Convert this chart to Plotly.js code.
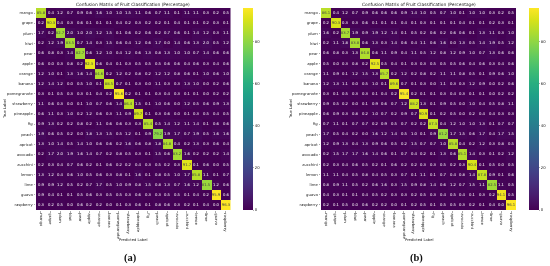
<!DOCTYPE html>
<html><head><meta charset="utf-8">
<script src="https://cdn.plot.ly/plotly-3.0.1.min.js"></script>
<style>html,body{margin:0;padding:0;background:#fff}#c{width:550px;height:266px;filter:blur(.35px)}</style></head>
<body><div id="c"></div>
<script>
const categories=["mango","grape","plum","kiwi","pear","apple","orange","banana","pomegranate","strawberry","pineapple","fig","peach","apricot","avocado","zucchini","lemon","lime","guava","raspberry"];
const matrixA=[
[85.8,.4,1.2,.7,.9,.6,1.6,1,1,1.5,1.1,.6,.7,1.1,.1,1.1,1.1,.3,.2,.5],
[.2,90.3,.4,.3,.6,.1,.1,.1,.4,.2,.3,.2,.2,.1,.4,.1,.1,.2,.3,.1],
[1.7,.2,82.7,2,1,2,1.2,1.5,.1,.6,.2,.6,.2,.7,.6,.1,1.4,1.2,.3,1.1],
[.2,1.2,1.9,83.5,.7,1.4,.3,1.5,.6,.4,1.2,.6,1.7,0,1.4,.6,1.3,2,.5,1.2],
[.6,.8,.3,1.4,82.7,.6,1.2,1,.4,1.2,.6,1.3,.8,1.3,1,1,.7,1.4,.6,.6],
[.6,0,.3,.8,.2,92.3,.6,.4,.1,.3,.5,.5,.5,.6,.6,.4,.6,.3,.4,.6],
[1.2,1,.1,1.3,1.6,1.4,84.6,.2,1.2,.2,.8,.2,1.2,1.2,.8,.6,.1,1,.6,1],
[1.2,1.4,1.2,0,.5,1,.1,88.5,.7,.1,.3,0,1.1,.3,.3,1.3,1,0,.2,.6],
[.3,.1,.5,.3,.3,.1,.4,.2,95.6,.2,.1,.1,.3,.4,.3,.1,.1,0,.2,.2],
[1.1,.6,.3,0,.1,1,.7,.6,1.4,86.4,1.5,.1,1,.6,0,1.2,.5,.6,.9,1.3],
[.6,1.1,.3,1,.2,1.2,.6,.3,1.1,.9,89.7,.1,.3,.6,0,.1,.3,.5,.4,.5],
[.9,1.3,.2,.2,.8,.2,1.1,.6,.6,.3,.3,85.4,.5,1.4,1.2,1.1,1.4,.1,.6,.6],
[1.9,.6,.5,.2,0,1.8,1.3,1.5,.5,1.2,.1,.9,79.2,1.9,1.7,.7,1.9,.5,1.6,1.6],
[1.3,1,1.4,.5,1.4,1,.6,.6,.2,1.6,.6,.8,1.8,84.8,.4,.2,1.3,.3,.6,.4],
[.2,1.7,2,1.9,1.6,1.4,.7,.2,.8,.5,.3,.1,1.5,.6,83.2,1.6,.2,.2,.2,1.4],
[.2,.3,.4,.7,.6,.2,.1,.6,.2,.2,.4,.3,.5,.2,.3,91.7,.1,.6,0,.5],
[1.3,1.2,.4,.6,1,.5,.6,.3,.8,.1,1.6,.1,.8,.5,1,1.7,85.8,1.1,.1,.7],
[.9,.9,1.2,.5,.2,.7,1.7,.5,1,.9,.8,1.5,.8,1.3,.7,1.6,1.2,81.5,1.2,.6],
[.9,.4,.1,.1,.5,.6,.3,.5,.5,.3,.6,.3,.3,.5,.5,.1,.4,.2,95.9,.6],
[.3,.2,.5,0,.6,.2,.2,0,.1,.3,.6,.1,.8,.6,.3,.2,.1,.4,0,96.3]];
const matrixB=[
[86.1,.4,1.2,.7,.9,.6,.6,.6,.9,1.4,1,.5,.7,1,.1,1,1,.3,.2,.5],
[.2,90.3,.3,.3,.6,.1,.1,.1,.4,.1,.3,.1,.1,.1,.4,.1,.1,.2,.3,.1],
[1.6,.2,83.7,1.9,.9,1.9,1.2,1.4,.1,.5,.2,.6,.2,.6,.6,.1,1.3,1.1,.3,1],
[.2,1.1,1.8,83.8,.6,1.3,.3,1.4,.6,.4,1.1,.6,1.6,0,1.3,.5,1.4,1.9,.5,1.2],
[.6,.8,.3,1.3,84.8,.6,1.1,.9,.4,1.1,.5,1.2,.8,1.2,.9,1,.7,1.3,.6,.6],
[.5,0,.3,.8,.2,92.5,.5,.4,.1,.3,.3,.5,.5,.5,.6,.4,.6,.3,.4,.6],
[1.1,.9,.1,1.2,1.5,1.3,85.7,.2,1.2,.2,.8,.2,1.1,1.1,.8,.5,.1,.9,.6,1],
[1.2,1.3,1.1,0,.5,1,.1,89.6,.7,.1,.3,0,1.1,.3,.3,1.2,.9,0,.2,.6],
[.3,.1,.5,.3,.3,.1,.4,.2,95.4,.2,.1,.1,.3,.4,.3,.1,.1,0,.2,.2],
[.9,.5,.2,0,.1,.9,.6,.7,1.2,88.2,1.3,.1,.9,.5,0,1,.4,.5,.8,1.1],
[.6,.9,.3,.8,.2,1,.7,.2,.9,.7,90.9,.1,.2,.5,0,.2,.4,.4,.3,.3],
[.7,1.1,.1,.7,.7,.2,.9,.5,.7,.2,.2,87.3,.4,1.2,1,1,1.3,.1,.7,.7],
[1.7,.5,.4,.2,0,1.6,1.2,1.4,.5,1,.1,.9,81.2,1.7,1.5,.6,1.7,.4,1.7,1.5],
[1.2,.9,1.3,.4,1.3,.9,.6,.5,.2,1.5,.7,.7,1,85.8,.4,.2,1.2,.3,.8,.5],
[.2,1.5,1.7,1.7,1.6,1.4,.6,.1,.7,.4,.2,.1,1.3,.6,85.1,1.4,.3,.1,.2,1.2],
[.2,.3,.4,.6,.5,.2,.1,.6,.2,.2,.3,.3,.5,.2,.3,90.4,.1,.5,0,.5],
[1.1,1.1,.4,.5,.8,.4,.5,.3,.7,.1,1.1,.1,.7,.4,.8,1.4,87.8,.9,.1,.6],
[.8,.9,1.1,.5,.2,.6,1.6,.3,1.5,.9,.8,1.4,.6,1.2,.7,1.5,1.1,82.5,1.1,.5],
[.4,.3,.1,.1,.4,.5,.2,.3,.3,.2,.5,.3,.4,.5,.4,.1,.3,.2,94.1,.5],
[.2,.1,.5,0,.6,.2,.2,0,.1,.2,.5,.1,.5,.5,.3,.2,.1,.4,0,96.1]];
const barTicks=[0,20,40,60,80];
const W=550,H=266,F="DejaVu Sans";
function hm(z,xa,ya,barX){return {type:"heatmap",z:z,x:categories,y:categories,xaxis:xa,yaxis:ya,
 colorscale:"Viridis",zmin:0,zmax:96,
 texttemplate:"%{z:.1f}",textfont:{size:3.8,family:F},hoverongaps:false,
 colorbar:{x:barX/W,xanchor:"left",y:1-210/H,yanchor:"bottom",lenmode:"pixels",len:202,thicknessmode:"pixels",thickness:10,xpad:0,ypad:0,
  tickmode:"array",tickvals:barTicks,ticks:"outside",ticklen:1.5,tickwidth:.4,tickcolor:"#333",outlinewidth:0,tickfont:{size:3.8,family:F,color:"#222"}}};}
function ax(dom,anchor,extra){return Object.assign({domain:dom,anchor:anchor,type:"category",showgrid:false,zeroline:false,showline:false,ticks:"outside",ticklen:1.5,tickwidth:.4,tickcolor:"#333",tickfont:{size:3.8,family:F,color:"#222"},automargin:false,tickmode:"array",tickvals:categories,ticktext:categories},extra);}
const yDom=[1-210/H,1-8/H];
const tFont={size:4.4,family:F,color:"#222"},lFont={size:3.7,family:F,color:"#222"},capFont={size:10.5,family:"Liberation Serif",color:"#111"};
const txt=(x,y,text,font,rot)=>({xref:"paper",yref:"paper",x:x/W,y:1-y/H,text:text,showarrow:false,font:font,textangle:rot||0,xanchor:"center",yanchor:"middle"});
const layout={width:W,height:H,margin:{l:0,r:0,t:0,b:0},paper_bgcolor:"#fff",plot_bgcolor:"#fff",showlegend:false,
 xaxis:ax([36/W,230.5/W],"y",{tickangle:90}),yaxis:ax(yDom,"x",{autorange:"reversed"}),
 xaxis2:ax([321/W,516/W],"y2",{tickangle:90}),yaxis2:ax(yDom,"x2",{autorange:"reversed"}),
 annotations:[
  txt(133,4.6,"Confusion Matrix of Fruit Classification (Percentage)",tFont),
  txt(418.5,4.6,"Confusion Matrix of Fruit Classification (Percentage)",tFont),
  txt(133,240,"Predicted Label",lFont),txt(418.5,240,"Predicted Label",lFont),
  txt(5,109,"True Label",lFont,-90),txt(291,109,"True Label",lFont,-90),
  txt(130.5,258,"<b>(a)</b>",capFont),
  txt(416,258,"<b>(b)</b>",capFont)
 ]};
Plotly.newPlot("c",[hm(matrixA,"x","y",243),hm(matrixB,"x2","y2",529)],layout,{displayModeBar:false,staticPlot:true});
</script></body></html>
